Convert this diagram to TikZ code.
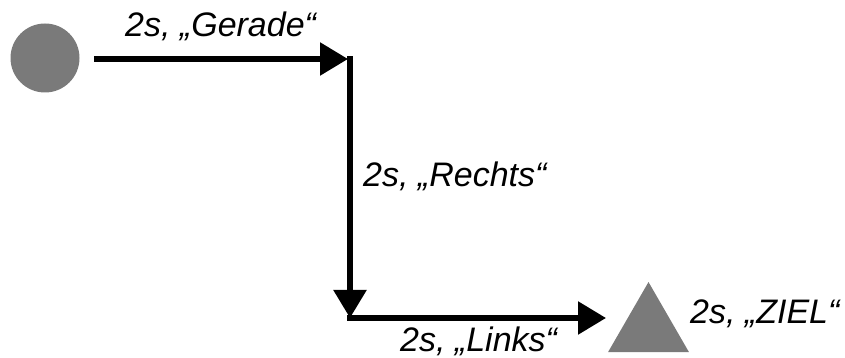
\documentclass[tikz,border=0pt]{standalone}
\usepackage{fontspec}
\setmainfont{Liberation Sans}
\usetikzlibrary{arrows.meta,shapes.geometric}
\definecolor{shape}{RGB}{122,122,122}
\begin{document}
\begin{tikzpicture}[x=1pt,y=1pt,
  lab/.style={inner sep=0pt,anchor=base west,font=\fontsize{34}{40}\selectfont\itshape},
  conn/.style={line width=5.5pt,-{Triangle[length=28pt,width=32pt]}},
  seg/.style={line width=5.5pt}]
\useasboundingbox (0,0) rectangle (845,358);
\node[circle,fill=shape,minimum size=69pt,inner sep=0pt] (start) at (45,300) {};
\coordinate (c1) at (350,299);
\coordinate (c2) at (350,40);
\node[regular polygon,regular polygon sides=3,fill=shape,minimum size=93.5pt,inner sep=0pt,outer sep=0pt] (goal) at (648.5,29.2) {};
\coordinate (g1) at (94,299);
\draw[conn] (g1) -- ([xshift=-2pt]c1);
\draw[seg] ([yshift=2.5pt]c1) -- ([yshift=20pt]c2);
\draw[conn] ([yshift=30pt]c2) -- (c2);
\draw[conn] ([xshift=-2.75pt]c2) -- ([xshift=-2pt]goal.corner 2 |- c2);
\node[lab] (l1) at (125,321) {2s, „Gerade“};
\node[lab] (l2) at (363,171) {2s, „Rechts“};
\node[lab] (l3) at (400,6) {2s, „Links“};
\node[lab] (l4) at (690,34) {2s, „ZIEL“};
\end{tikzpicture}
\end{document}
